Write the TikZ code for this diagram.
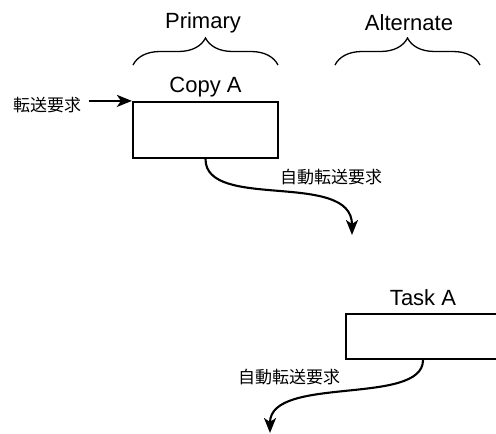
\documentclass[tikz,border=0pt]{standalone}
\usepackage{fontspec}
\setmainfont{Liberation Sans}
\newfontfamily\cjk{Noto Sans CJK JP}
\usetikzlibrary{arrows.meta,decorations.pathreplacing,positioning}

\begin{document}
\begin{tikzpicture}[x=1pt,y=-1pt,>={Stealth[length=15pt,width=12pt,inset=4pt]},
  lbl/.style={font=\fontsize{22}{26}\selectfont},
  jp/.style={font=\cjk\fontsize{17}{20}\selectfont},
  slot/.style={draw,line width=2.2pt,inner sep=0pt},
  grp/.style={decorate,decoration={brace,amplitude=27pt},line width=1.3pt},
  flow/.style={->,line width=2.1pt}]
\useasboundingbox (0,0) rectangle (496,434);
% columns
\node[lbl] (primary) at (203,23){Primary};
\node[lbl] (alternate) at (409,23){Alternate};
\draw[grp] (133,65)--(278,65);
\draw[grp] (335,65)--(480,65);
% copy
\node[slot,minimum width=145pt,minimum height=56pt] (copyA) at (205.5,130){};
\node[lbl,above=0pt of copyA] (copyAlbl){Copy A};
\node[jp] (req) at (47,105){転送要求};
\draw[flow,shorten <=4pt] (req.east |- copyA.north west)--(copyA.north west);
\coordinate (end1) at (352,235);
\draw[flow] (copyA.south) .. controls +(0,52) and +(0,-65) .. (end1);
\node[jp] (auto1) at (331,177){自動転送要求};
% task
\node[slot,minimum width=154pt,minimum height=45pt] (taskA) at (423,336.5){};
\node[lbl,above=4pt of taskA] (taskAlbl){Task A};
\coordinate (end2) at (270,433);
\draw[flow] (taskA.south) .. controls +(0,46) and +(0,-58) .. (end2);
\node[jp] (auto2) at (289,377){自動転送要求};
\end{tikzpicture}
\end{document}
